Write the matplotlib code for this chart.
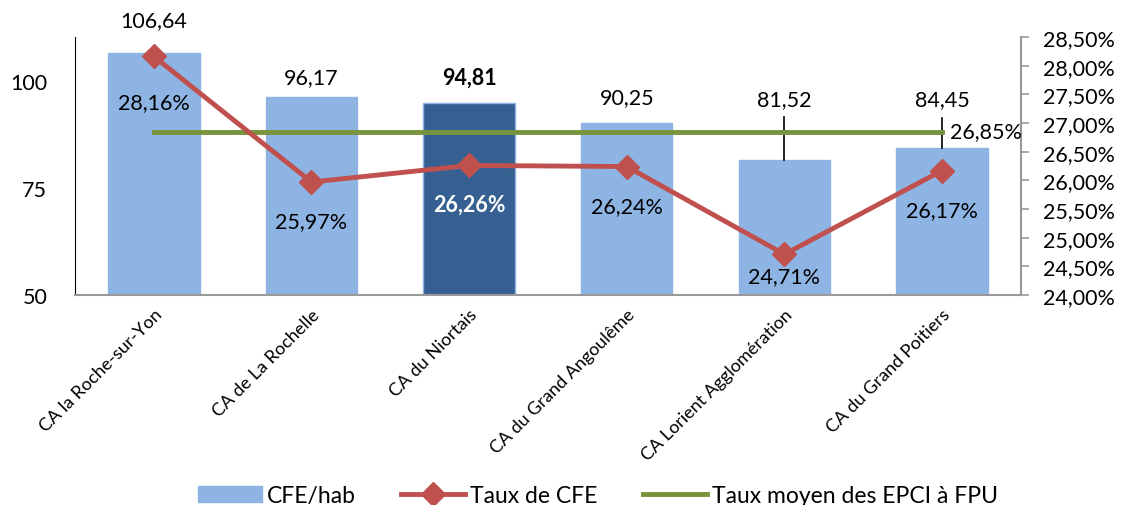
import matplotlib
matplotlib.use("Agg")
import matplotlib.pyplot as plt
import numpy as np

plt.rcParams['font.family'] = ['Lato', 'DejaVu Sans']

# Data
categories = ["CA la Roche-sur-Yon", "CA de La Rochelle", "CA du Niortais",
              "CA du Grand Angoulême", "CA Lorient Agglomération", "CA du Grand Poitiers"]
cfe_hab = [106.64, 96.17, 94.81, 90.25, 81.52, 84.45]
taux_cfe = [28.16, 25.97, 26.26, 26.24, 24.71, 26.17]
taux_moyen = 26.85
highlight = 2  # CA du Niortais

# Colours
LIGHT = '#8EB4E3'
DARK = '#366092'
RED = '#C0504D'
GREEN = '#77933C'


def fmt(v, dec=2):
    return f"{v:.{dec}f}".replace('.', ',')


fig = plt.figure(figsize=(11.28, 5.06), dpi=100)
ax = fig.add_axes([0.0665, 0.415, 0.8385, 0.51])
ax2 = ax.twinx()

x = np.arange(len(categories))
colors = [DARK if i == highlight else LIGHT for i in x]
ax.bar(x, cfe_hab, width=0.58, color=colors, edgecolor=LIGHT, linewidth=1.0,
       label='CFE/hab', zorder=2)
ax.set_ylim(50, 110.3)
ax.set_xlim(-0.5, len(categories) - 0.5)
ax.set_yticks([50, 75, 100])
ax.tick_params(axis='y', length=0, labelsize=15.5, pad=20)
ax.set_xticks(x)
ax.set_xticklabels(categories, rotation=45, ha='right', rotation_mode='anchor',
                   fontsize=13)
ax.tick_params(axis='x', length=0, pad=8)
for s in ['top', 'right']:
    ax.spines[s].set_visible(False)
ax.spines['left'].set_color('black')
ax.spines['bottom'].set_color('#999999')
ax.spines['bottom'].set_linewidth(1.5)

# Secondary axis
ax2.plot(x, taux_cfe, color=RED, linewidth=3.5, marker='D', markersize=12,
         label='Taux de CFE', zorder=4)
ax2.plot(x, [taux_moyen] * len(x), color=GREEN, linewidth=3.5,
         label='Taux moyen des EPCI à FPU', zorder=3)
ax2.set_ylim(24, 28.5)
ax2.set_yticks(np.arange(24, 28.51, 0.5))
ax2.set_yticklabels([fmt(v) + '%' for v in np.arange(24, 28.51, 0.5)])
ax2.tick_params(axis='y', direction='out', length=6, color='#999999', width=1.2,
                labelsize=15.5, pad=10)
for s in ['top', 'left', 'bottom']:
    ax2.spines[s].set_visible(False)
ax2.spines['right'].set_color('#999999')
ax2.spines['right'].set_linewidth(1.5)
ax.set_zorder(1)
ax2.set_zorder(2)
ax2.patch.set_visible(False)

# Bar value labels (pixel offsets above the bar top)
bar_offsets = [33, 20, 26, 26, 61, 48]
for i, v in enumerate(cfe_hab):
    ax.annotate(fmt(v), (i, v), xytext=(0, bar_offsets[i]), textcoords='offset pixels',
                ha='center', va='center', fontsize=15.5,
                fontweight='bold' if i == highlight else 'normal', zorder=5)
# Leader lines for the two labels placed far from the bars
for i in [4, 5]:
    ax.plot([i, i], [cfe_hab[i], cfe_hab[i] + (bar_offsets[i] - 18) / 4.28],
            color='black', linewidth=1.2, zorder=5)

# Rate labels (pixel offsets below the marker)
rate_offsets = [-46, -39, -39, -40, -22, -40]
for i, v in enumerate(taux_cfe):
    ax2.annotate(fmt(v) + '%', (i, v), xytext=(0, rate_offsets[i]),
                 textcoords='offset pixels', ha='center', va='center', fontsize=15.5,
                 color='white' if i == highlight else 'black',
                 fontweight='bold' if i == highlight else 'normal', zorder=6)
ax2.annotate(fmt(taux_moyen) + '%', (len(x) - 1, taux_moyen), xytext=(8, 0),
             textcoords='offset pixels', ha='left', va='center', fontsize=15.5, zorder=6)

# Legend
h1, l1 = ax.get_legend_handles_labels()
h2, l2 = ax2.get_legend_handles_labels()
fig.legend(h1 + h2, l1 + l2, loc='center', bbox_to_anchor=(0.53, 0.018), ncol=3,
           frameon=False, fontsize=16.5, handlelength=2.8, columnspacing=2.0,
           handletextpad=0.2, borderpad=0)

fig.savefig('out.png', dpi=100)
